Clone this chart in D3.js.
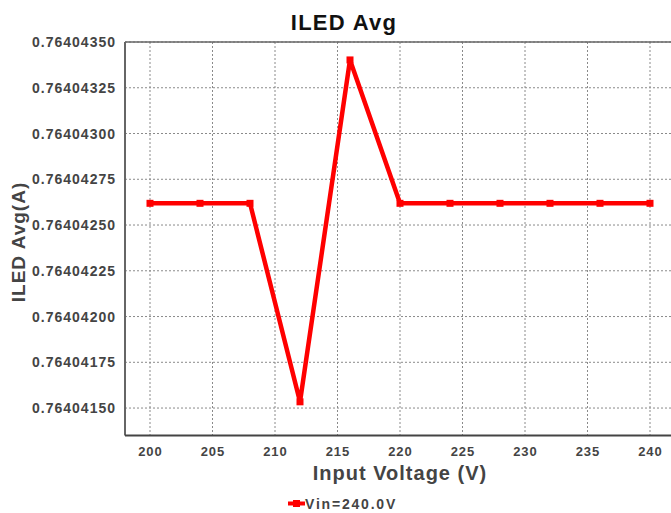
<!DOCTYPE html>
<html><head><meta charset="utf-8">
<script src="https://cdn.jsdelivr.net/npm/d3@7/dist/d3.min.js"></script>
<style>
body{margin:0;background:#fff;}
text{font-family:"Liberation Sans",Arial,sans-serif;font-weight:bold;}
</style></head>
<body><svg id="c" width="671" height="513"></svg>
<script>
const voltages = [200, 204, 208, 212, 216, 220, 224, 228, 232, 236, 240];
const iledAvg = [0.7640426186, 0.7640426186, 0.7640426186, 0.7640415340, 0.7640434020, 0.7640426186, 0.7640426186, 0.7640426186, 0.7640426186, 0.7640426186, 0.7640426186];
const xTicks = [200, 205, 210, 215, 220, 225, 230, 235, 240];
const yTicks = [0.76404150, 0.76404175, 0.76404200, 0.76404225, 0.76404250, 0.76404275, 0.76404300, 0.76404325, 0.76404350];
const seriesName = "Vin=240.0V";

const svg = d3.select("#c");
const L = 125, R = 675, T = 42, B = 435.5;
const x = d3.scaleLinear().domain([198, 242]).range([L, R]);
const y = d3.scaleLinear().domain([0.76404135, 0.76404350]).range([B, T]);

// grid
svg.append("g").selectAll("line").data(yTicks).join("line")
  .attr("x1", L).attr("x2", R).attr("y1", d => y(d)).attr("y2", d => y(d))
  .attr("stroke", "#8a8a8a").attr("stroke-width", 1).attr("stroke-dasharray", "2,2");
svg.append("g").selectAll("line").data(xTicks).join("line")
  .attr("y1", T).attr("y2", B).attr("x1", d => x(d)).attr("x2", d => x(d))
  .attr("stroke", "#8a8a8a").attr("stroke-width", 1).attr("stroke-dasharray", "2,2");

// axes lines
svg.append("line").attr("x1", L).attr("x2", R).attr("y1", T).attr("y2", T).attr("stroke", "#666").attr("stroke-width", 1.5);
svg.append("line").attr("x1", L).attr("x2", L).attr("y1", T).attr("y2", B).attr("stroke", "#666").attr("stroke-width", 2);
svg.append("line").attr("x1", L).attr("x2", R).attr("y1", B).attr("y2", B).attr("stroke", "#444").attr("stroke-width", 2);

// tick labels
svg.append("g").selectAll("text").data(yTicks).join("text")
  .attr("x", 116).attr("y", d => y(d) + 5).attr("text-anchor", "end")
  .attr("font-size", 14).attr("letter-spacing", 1).attr("fill", "#444")
  .text(d => d.toFixed(8));
svg.append("g").selectAll("text").data(xTicks).join("text")
  .attr("x", d => x(d) + 0.5).attr("y", 456).attr("text-anchor", "middle")
  .attr("font-size", 13).attr("letter-spacing", 1).attr("fill", "#444")
  .text(d => d);

// titles
svg.append("text").attr("x", 344).attr("y", 30).attr("text-anchor", "middle")
  .attr("font-size", 22).attr("letter-spacing", 1.3).attr("fill", "#111").text("ILED Avg");
svg.append("text").attr("x", 400).attr("y", 480).attr("text-anchor", "middle")
  .attr("font-size", 20).attr("letter-spacing", 1).attr("fill", "#444").text("Input Voltage (V)");
svg.append("text").attr("transform", "translate(25,242) rotate(-90)").attr("text-anchor", "middle")
  .attr("font-size", 19).attr("letter-spacing", 1).attr("fill", "#444").text("ILED Avg(A)");

// line
const pts = voltages.map((v, i) => [v, iledAvg[i]]);
svg.append("path").datum(pts)
  .attr("d", d3.line().x(d => x(d[0])).y(d => y(d[1])))
  .attr("fill", "none").attr("stroke", "#ff0000").attr("stroke-width", 4.5).attr("stroke-linejoin", "miter");
svg.append("g").selectAll("rect").data(pts).join("rect")
  .attr("x", d => x(d[0]) - 3.5).attr("y", d => y(d[1]) - 3.5)
  .attr("width", 7).attr("height", 7).attr("fill", "#ff0000");

// legend
svg.append("line").attr("x1", 288).attr("x2", 305).attr("y1", 503.5).attr("y2", 503.5)
  .attr("stroke", "#ff0000").attr("stroke-width", 4);
svg.append("rect").attr("x", 293).attr("y", 500).attr("width", 7).attr("height", 7).attr("fill", "#ff0000");
svg.append("text").attr("x", 305).attr("y", 509).attr("font-size", 14).attr("letter-spacing", 1.8)
  .attr("fill", "#444").text(seriesName);
</script></body></html>
